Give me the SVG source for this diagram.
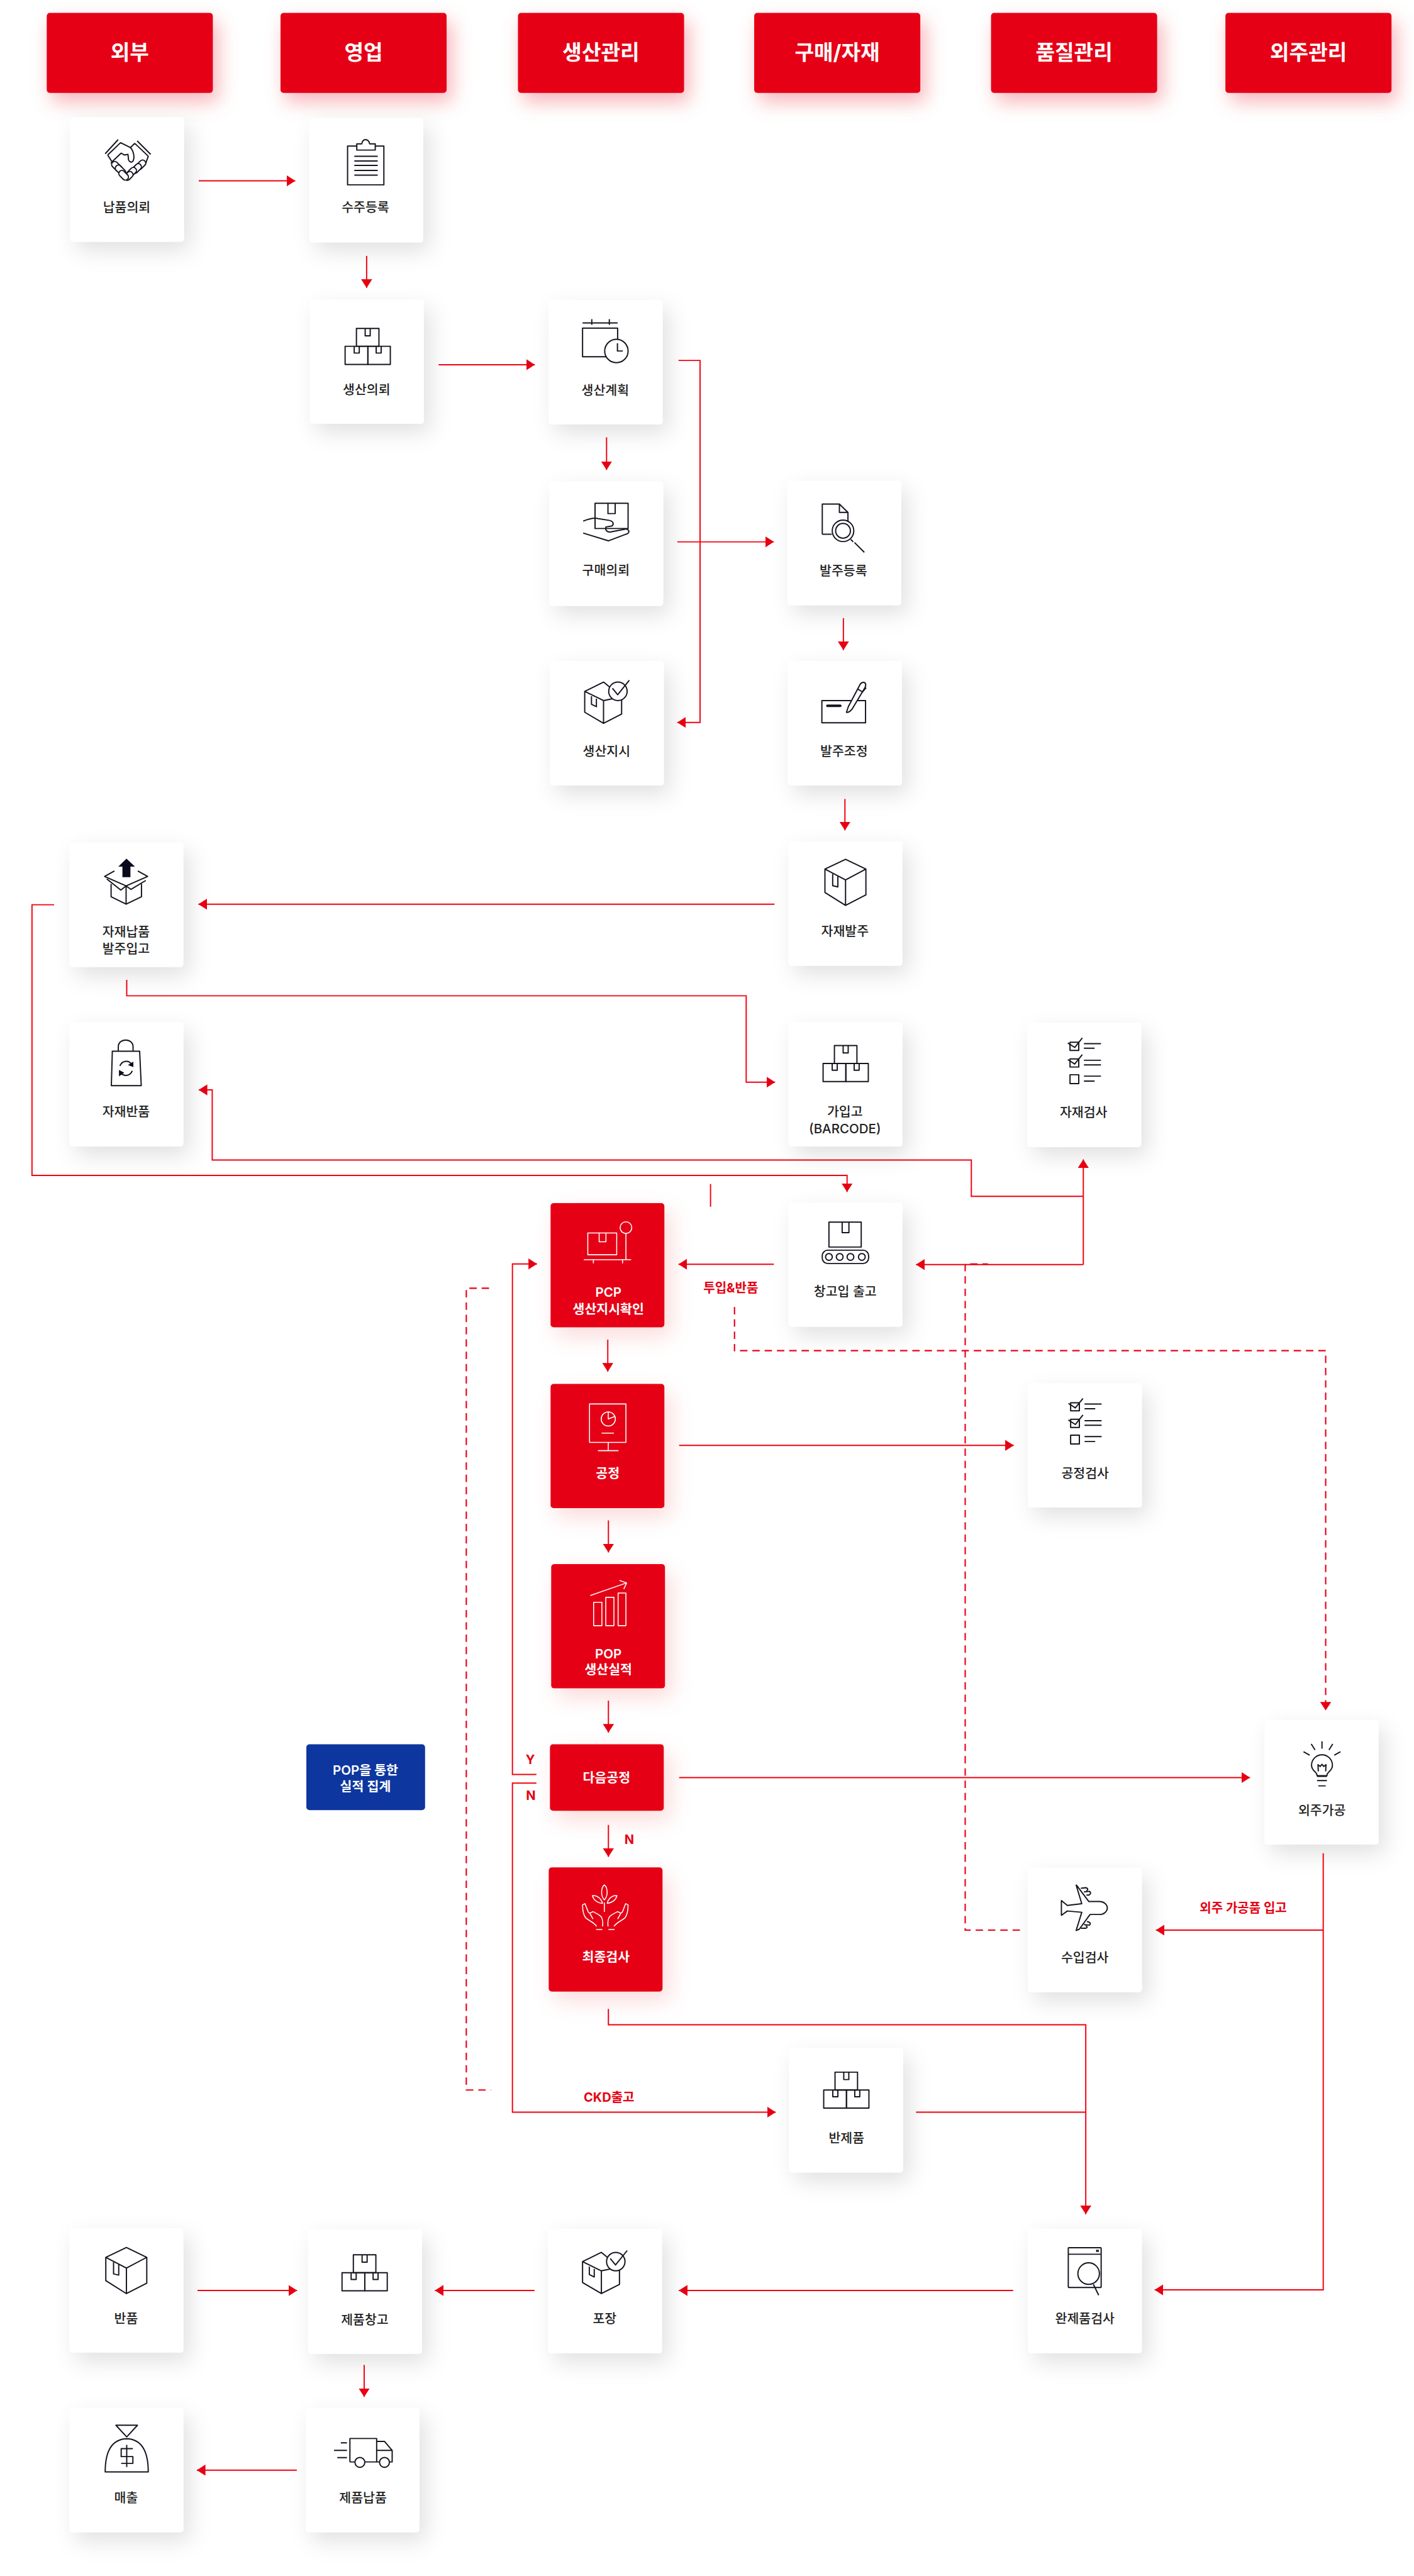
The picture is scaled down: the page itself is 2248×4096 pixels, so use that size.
<svg xmlns="http://www.w3.org/2000/svg" xmlns:xlink="http://www.w3.org/1999/xlink" width="2248" height="4096" viewBox="0 0 2248 4096">
<style>
text{font-family:"Inter","Noto Sans CJK KR","Noto Sans",sans-serif;text-anchor:middle;dominant-baseline:central}
.hd rect{fill:#e60012}
.hd text{fill:#fff;font-size:34px;font-weight:700}
.cd>rect{fill:#fff}
.cd text{fill:#222;font-size:21px;font-weight:500}
.rd>rect{fill:#e60012}
.rd text{fill:#fff;font-size:21px;font-weight:600}
.lb{fill:#e60012;font-size:20.500px;font-weight:700}
.ic{fill:none;stroke:#14141f;stroke-width:2;stroke-linejoin:round}
.iw{fill:none;stroke:#fff;stroke-width:1.6;stroke-linejoin:round}
.c{fill:none;stroke:#f2000f;stroke-width:2}
.d{fill:none;stroke:#e8001a;stroke-width:2.2;stroke-dasharray:12 8}
</style>
<defs>
<filter id="sc" x="-50%" y="-40%" width="220%" height="190%"><feDropShadow dx="10" dy="14" stdDeviation="18" flood-color="#000" flood-opacity="0.12"/></filter>
<filter id="sr" x="-50%" y="-40%" width="220%" height="190%"><feDropShadow dx="10" dy="14" stdDeviation="18" flood-color="#e60012" flood-opacity="0.15"/></filter>
<filter id="sh" x="-30%" y="-40%" width="170%" height="200%"><feDropShadow dx="8" dy="14" stdDeviation="16" flood-color="#e60012" flood-opacity="0.3"/></filter>
<marker id="a" markerUnits="userSpaceOnUse" markerWidth="15" markerHeight="19" refX="14" refY="9" orient="auto"><path d="M0 0L14 9L0 18Z" fill="#e60012"/></marker>
<g id="i-stack" class="ic">
<rect x="18.4" y="0" width="36.6" height="29"/><rect x="0" y="29" width="37" height="29.5"/><rect x="37" y="29" width="36.5" height="29.5"/>
<path d="M32.6 0V12H40.8V0M14.8 29V40H23V29M50.5 29V40H58.6V29"/>
</g>
<g id="i-cube" class="ic">
<path d="M33.500 0L66.600 16L33.500 33.600L0 16ZM0 16V54L33.500 75L66.600 58V16M33.500 33.600V75M12.600 24V43L21 45V28"/>
</g>
<g id="i-boxok" class="ic">
<path d="M0 18L30.600 3L60 27V55L30.600 70L0 52ZM0 18L30.600 33V70M30.600 33L60 27M11 26V39L19 43V30"/>
<circle cx="54" cy="18" r="15" fill="#fff"/>
<path d="M45 13L53.600 23.500L72.500 0"/>
</g>
<g id="i-check" class="ic">
<rect x="3.600" y="7" width="14.200" height="13.200"/>
<path d="M0 8.100L11.200 15.400L23.600 0M26.200 9.200H53.900M26.200 16.700H43.600"/>
<rect x="3.600" y="34" width="14.200" height="13.200"/>
<path d="M0 35.100L11.200 42.400L23.600 27M26.200 36.200H53.900M26.200 43.700H53.900"/>
<rect x="3.600" y="59.700" width="14.200" height="14.400"/>
<path d="M26.200 62H53.900M26.200 70.100H43.600"/>
</g>
</defs>
<g transform="scale(0.978)">
<g id="h-external" class="hd"><rect x="76" y="21" width="270" height="130" rx="5" filter="url(#sh)"/><text x="211" y="85">외부</text></g>
<g id="h-sales" class="hd"><rect x="456" y="21" width="270" height="130" rx="5" filter="url(#sh)"/><text x="591" y="85">영업</text></g>
<g id="h-prod" class="hd"><rect x="842" y="21" width="270" height="130" rx="5" filter="url(#sh)"/><text x="977" y="85">생산관리</text></g>
<g id="h-buy" class="hd"><rect x="1226" y="21" width="270" height="130" rx="5" filter="url(#sh)"/><text x="1361" y="85">구매/자재</text></g>
<g id="h-qc" class="hd"><rect x="1611" y="21" width="270" height="130" rx="5" filter="url(#sh)"/><text x="1746" y="85">품질관리</text></g>
<g id="h-out" class="hd"><rect x="1992" y="21" width="270" height="130" rx="5" filter="url(#sh)"/><text x="2127" y="85">외주관리</text></g>

<g id="n-napum" class="cd"><rect x="114" y="191" width="185" height="202" rx="5" filter="url(#sc)"/>
<g class="ic"><path d="M171 250L192 227M223 229L245 251M175 252L196 232L212 240C218 246 219 258 216 262C214 265 210 263 209 260L208 251L202 252L197 249L180 265M219 233L241 254L236 268M212 240L219 233M175 252L184 266"/>
<rect x="220" y="263" width="18" height="10" rx="5" transform="rotate(-45 229 268)" fill="#fff"/><rect x="213" y="269" width="18" height="10" rx="5" transform="rotate(-45 222 274)" fill="#fff"/><rect x="205" y="275" width="18" height="10" rx="5" transform="rotate(-45 214 280)" fill="#fff"/><rect x="201" y="281" width="16" height="10" rx="5" transform="rotate(-45 209 286)" fill="#fff"/>
<rect x="180" y="266" width="20" height="10" rx="5" transform="rotate(45 190 271)" fill="#fff"/><rect x="186" y="272" width="20" height="10" rx="5" transform="rotate(45 196 277)" fill="#fff"/><rect x="192" y="280" width="18" height="10" rx="5" transform="rotate(45 201 285)" fill="#fff"/></g>
<text x="206" y="337">납품의뢰</text></g>

<g id="n-order" class="cd"><rect x="503" y="192" width="185" height="202" rx="5" filter="url(#sc)"/>
<g class="ic"><rect x="565" y="237.500" width="59" height="63"/><path d="M580 244V234H588C589 229 591 227 594 227C597 227 600 229 601 234H610V244Z" fill="#fff"/><path d="M576 254H614M576 261.700H614M576 269H614M576 277H614M576 284.700H614"/></g>
<text x="594" y="337">수주등록</text></g>

<g id="n-reqprod" class="cd"><rect x="504" y="487" width="185" height="202" rx="5" filter="url(#sc)"/>
<use href="#i-stack" x="561" y="534"/><text x="596" y="633">생산의뢰</text></g>

<g id="n-plan" class="cd"><rect x="892" y="488" width="185" height="202" rx="5" filter="url(#sc)"/>
<g class="ic"><path d="M947 525H1004M962 519V528M990.500 519V528"/><rect x="947" y="533.500" width="57" height="46.500"/><circle cx="1002" cy="570.700" r="19" fill="#fff"/><path d="M1003.700 558V570.700H1012.500"/></g>
<text x="984" y="634">생산계획</text></g>

<g id="n-purchase" class="cd"><rect x="893" y="783" width="185" height="202" rx="5" filter="url(#sc)"/>
<g class="ic"><rect x="967.300" y="818.300" width="53.700" height="41"/><path d="M988.300 818.300V835H1000V818.300"/><path d="M948 847.300C957 843.500 963 841.700 970 842.700L990 846C997 847.300 998.300 851.700 995 855L985 856.700C983.300 861.700 986.700 865 991.700 865L1018.300 860C1023.300 861.700 1024 866.700 1018.300 868.300L989.300 879.300L948 866.700"/></g>
<text x="985" y="927">구매의뢰</text></g>

<g id="n-po" class="cd"><rect x="1280" y="782" width="185" height="202" rx="5" filter="url(#sc)"/>
<g class="ic"><path d="M1336.700 868.600V819.500H1364.500L1378.400 833V848M1364.500 819.500V833H1378.400"/><path d="M1352 868.600H1336.700"/><circle cx="1370.400" cy="863" r="17.500" fill="#fff"/><circle cx="1370.400" cy="863" r="12"/><path d="M1383 877L1387 881M1389 882L1405 898"/></g>
<text x="1371" y="928">발주등록</text></g>

<g id="n-instr" class="cd"><rect x="894" y="1075" width="185" height="202" rx="5" filter="url(#sc)"/>
<use href="#i-boxok" x="950.500" y="1106"/><text x="986" y="1221">생산지시</text></g>

<g id="n-adjust" class="cd"><rect x="1281" y="1075" width="185" height="202" rx="5" filter="url(#sc)"/>
<g class="ic"><rect x="1336" y="1139" width="71" height="36"/><path d="M1345 1147.500H1366" stroke-width="4" stroke-linecap="round"/><path d="M1376 1158L1379 1149L1398 1113C1400 1109 1406 1108 1407 1112C1408 1114 1407 1116 1406 1118L1385 1153C1382 1157 1378 1159 1376 1158Z" fill="#fff"/><path d="M1394 1120L1402 1125L1408 1118"/></g>
<text x="1372" y="1221">발주조정</text></g>

<g id="n-matorder" class="cd"><rect x="1282" y="1368" width="185" height="202" rx="5" filter="url(#sc)"/>
<use href="#i-cube" x="1341" y="1397"/><text x="1373.500" y="1514">자재발주</text></g>

<g id="n-matin" class="cd"><rect x="113" y="1370" width="185" height="202" rx="5" filter="url(#sc)"/>
<g class="ic"><path d="M180.600 1437V1458L205 1470L230 1458V1437M205 1440.400V1470M205 1440.400L170 1425L186 1416M205 1440.400L240 1425L224 1416M173.500 1429L196.400 1447L205 1440.400M237 1431.500L213 1446L205 1440.400"/></g>
<path d="M205.600 1396L219.400 1409H212V1426H199V1409H192.300Z" fill="#0a0a1e"/>
<text x="205" y="1515">자재납품</text><text x="205" y="1542">발주입고</text></g>

<g id="n-matret" class="cd"><rect x="113" y="1662" width="185" height="202" rx="5" filter="url(#sc)"/>
<g class="ic"><path d="M182.600 1709H227L229.600 1765H181ZM192.300 1709V1702C192.300 1695 198 1691 204.300 1691C210.500 1691 216.300 1695 216.300 1702V1709"/><path d="M195 1733C198 1725 208 1723 213 1729M215 1741C212 1749 202 1751 197 1745"/></g>
<path d="M216.800 1726V1735L208 1731.500ZM193.400 1739.500V1750L202 1744Z" fill="#0a0a1e"/>
<text x="205" y="1807">자재반품</text></g>

<g id="n-prein" class="cd"><rect x="1282" y="1662" width="185" height="202" rx="5" filter="url(#sc)"/>
<use href="#i-stack" x="1338" y="1700"/><text x="1373.500" y="1807">가입고</text><text x="1373.500" y="1835">(BARCODE)</text></g>

<g id="n-matqc" class="cd"><rect x="1670" y="1663" width="185" height="202" rx="5" filter="url(#sc)"/>
<use href="#i-check" x="1735.800" y="1687.600"/><text x="1761.500" y="1808">자재검사</text></g>

<g id="n-wh" class="cd"><rect x="1282" y="1955" width="185" height="202" rx="5" filter="url(#sc)"/>
<g class="ic"><rect x="1347.500" y="1987" width="52.500" height="40.500"/><path d="M1369 1987V2004H1380V1987"/><rect x="1336.600" y="2032.600" width="75.400" height="21.700" rx="9"/><circle cx="1347.500" cy="2043.500" r="5.500"/><circle cx="1365" cy="2043.500" r="5.500"/><circle cx="1382.500" cy="2043.500" r="5.500"/><circle cx="1401" cy="2043.500" r="5.500"/></g>
<text x="1374" y="2100">창고입 출고</text></g>

<g id="n-pcp" class="rd"><rect x="895" y="1956" width="185" height="202" rx="5" filter="url(#sr)"/>
<g class="iw"><rect x="955.500" y="2004.600" width="47" height="35.400"/><path d="M974 2004.600V2019H985V2004.600M949 2048H1026M964.600 2048V2054M1012 2048V2054M1017.500 2005V2048"/><circle cx="1017.500" cy="1996" r="9.500"/></g>
<text x="989" y="2101">PCP</text><text x="989" y="2128">생산지시확인</text></g>

<g id="n-proc" class="rd"><rect x="895" y="2250" width="185" height="202" rx="5" filter="url(#sr)"/>
<g class="iw"><rect x="958.300" y="2282.600" width="59.200" height="62.400"/><circle cx="988.800" cy="2307" r="11.500"/><path d="M988.800 2295.500V2307L999.500 2303M978 2330H998M988.800 2345V2358.500M972 2358.500H1005.400"/></g>
<text x="988" y="2395.500">공정</text></g>

<g id="n-pop" class="rd"><rect x="896" y="2543" width="185" height="202" rx="5" filter="url(#sr)"/>
<g class="iw"><rect x="965" y="2605" width="13.400" height="38"/><rect x="984.700" y="2597" width="13.300" height="46"/><rect x="1004.800" y="2590" width="12.700" height="53"/><path d="M959.500 2594L1018.600 2573.500M1007 2569.600L1018.600 2573.500L1014 2583.600"/></g>
<text x="989" y="2689">POP</text><text x="989" y="2714">생산실적</text></g>

<g id="n-next" class="rd"><rect x="894" y="2836" width="185" height="108" rx="5" filter="url(#sr)"/><text x="986" y="2890">다음공정</text></g>

<g id="n-popsum"><rect x="498" y="2836" width="193" height="107" rx="5" fill="#0d369f"/><text x="594" y="2878" fill="#fff" font-size="21" font-weight="600">POP을 통한</text><text x="594" y="2904" fill="#fff" font-size="21" font-weight="600">실적 집계</text></g>

<g id="n-final" class="rd"><rect x="892" y="3036" width="185" height="202" rx="5" filter="url(#sr)"/>
<g class="iw"><path d="M982.400 3064.500C988 3069 989 3082 982.400 3089C976 3082 977 3069 982.400 3064.500ZM963 3082C970 3081 977 3086 979.600 3094.500C971 3094 965 3089 963 3082ZM1003 3082C996 3081 989 3086 987 3094.500C995 3094 1001 3089 1003 3082ZM982.400 3093V3108.500"/>
<g id="hand-l"><path d="M970 3132C965 3125 956 3122 952 3118C948 3113 947 3104 947 3097L951 3095L956 3108C958 3112 960 3110 964 3108C968 3110 975 3114 977 3116C980 3120 980 3128 979.500 3132M964 3120L959 3111M969 3137H979"/></g>
<use href="#hand-l" transform="translate(1968 0) scale(-1 1)"/></g>
<text x="985" y="3182">최종검사</text></g>

<g id="n-semi" class="cd"><rect x="1283" y="3330" width="185" height="202" rx="5" filter="url(#sc)"/>
<use href="#i-stack" x="1339" y="3369"/><text x="1376" y="3476">반제품</text></g>

<g id="n-procqc" class="cd"><rect x="1671" y="2249" width="185" height="202" rx="5" filter="url(#sc)"/>
<use href="#i-check" x="1736.800" y="2273.600"/><text x="1764" y="2395">공정검사</text></g>

<g id="n-outproc" class="cd"><rect x="2056" y="2797" width="185" height="202" rx="5" filter="url(#sc)"/>
<g class="ic"><path d="M2149 2831V2843M2131.500 2835.400L2137.700 2845M2166.500 2835.400L2160.300 2845M2119 2848L2129 2853.700M2179 2848L2169 2853.700M2141 2887C2141 2880 2132 2880 2132 2870A17 17 0 1 1 2166 2870C2166 2880 2157 2880 2157 2887ZM2143 2880L2142.500 2869L2146 2872L2149 2868.500L2152 2872L2155.500 2869L2155 2880M2141 2888H2157M2141 2895H2157M2143 2903.500H2155"/></g>
<text x="2149" y="2943">외주가공</text></g>

<g id="n-incoming" class="cd"><rect x="1671" y="3037" width="185" height="202" rx="5" filter="url(#sc)"/>
<g class="ic"><path d="M1800 3102C1800 3096 1794 3091.600 1787.500 3091.600H1770L1750 3065L1749.400 3065L1758.500 3095L1735 3098L1725.400 3090V3114L1735 3107L1758.500 3109L1749.400 3138.600L1754.500 3136.500L1772 3112.600H1787.500C1794 3112.600 1800 3108 1800 3102Z"/><path d="M1757 3070L1765 3069C1769 3070 1769 3073 1766 3074M1762 3076L1771 3075C1774 3077 1773 3080 1770 3081L1766 3081M1762 3129L1771 3130C1773 3128 1773 3126 1770 3125L1767 3124M1757 3135L1765 3135C1768 3134 1768 3132 1765 3131"/></g>
<text x="1763.500" y="3183">수입검사</text></g>

<g id="n-fgqc" class="cd"><rect x="1671" y="3624" width="185" height="202" rx="5" filter="url(#sc)"/>
<g class="ic"><rect x="1736.600" y="3654.400" width="53.400" height="64.600" rx="1"/><path d="M1736.600 3665H1790M1782 3658L1786 3661M1786 3658L1782 3661"/><circle cx="1769.700" cy="3696.500" r="17.500"/><path d="M1777.400 3714L1786 3731.600"/></g>
<text x="1763.500" y="3769">완제품검사</text></g>

<g id="n-pack" class="cd"><rect x="891" y="3624" width="185" height="202" rx="5" filter="url(#sc)"/>
<use href="#i-boxok" x="947" y="3659"/><text x="983" y="3769">포장</text></g>

<g id="n-fgwh" class="cd"><rect x="501" y="3625" width="185" height="202" rx="5" filter="url(#sc)"/>
<use href="#i-stack" x="556" y="3666"/><text x="593" y="3771">제품창고</text></g>

<g id="n-return" class="cd"><rect x="113" y="3623" width="185" height="202" rx="5" filter="url(#sc)"/>
<use href="#i-cube" x="172" y="3654"/><text x="205" y="3769">반품</text></g>

<g id="n-sales" class="cd"><rect x="113" y="3915" width="185" height="202" rx="5" filter="url(#sc)"/>
<g class="ic"><path d="M188.400 3943H223.500L206 3962ZM171 4019H241C241 3995 236 3966 206 3965C176 3966 171 3995 171 4019ZM206 3975V4011M216 3981H197V3994H216V4005H197"/></g>
<text x="205" y="4061">매출</text></g>

<g id="n-deliver" class="cd"><rect x="497" y="3915" width="185" height="202" rx="5" filter="url(#sc)"/>
<g class="ic"><path d="M568.800 4002.700V3964.600H612.300V4002.700H568.800M612.300 3969.300H625L637.500 3984V4002.700H612.300M612.300 3984H637.500M554 3971.600H564M543 3984H564M548.400 3995.700H564"/><circle cx="585" cy="4003.400" r="8" fill="#fff"/><circle cx="625" cy="4003.400" r="8" fill="#fff"/></g>
<text x="590" y="4061">제품납품</text></g>

<g id="connectors">
<path class="c" marker-end="url(#a)" d="M323 294H480"/>
<path class="c" marker-end="url(#a)" d="M596 416V468"/>
<path class="c" marker-end="url(#a)" d="M713 593H869.500"/>
<path class="c" marker-end="url(#a)" d="M1103 586H1138V1174.500H1101"/>
<path class="c" marker-end="url(#a)" d="M986 711V764"/>
<path class="c" marker-end="url(#a)" d="M1101 881H1258"/>
<path class="c" marker-end="url(#a)" d="M1371 1005V1057"/>
<path class="c" marker-end="url(#a)" d="M1373.500 1299V1350"/>
<path class="c" marker-end="url(#a)" d="M1259 1470H322.500"/>
<path class="c" marker-end="url(#a)" d="M88 1471H52V1911H1377V1938"/>
<path class="c" marker-end="url(#a)" d="M206 1593V1619H1213V1759.500H1260"/>
<path class="c" marker-end="url(#a)" d="M1761 1945H1579V1886H345V1772H323"/>
<path class="c" marker-end="url(#a)" d="M1761 2056V1885"/>
<path class="c" marker-end="url(#a)" d="M1761 2056H1489"/>
<path class="c" d="M1155 1925V1962"/>
<path class="c" marker-end="url(#a)" d="M1258 2055.500H1103"/>
<path class="d" stroke-width="2" marker-end="url(#a)" d="M1194 2125V2196H2155V2781"/>
<path class="d" d="M1658 3138H1569V2055H1606"/>
<path class="d" d="M795 2094.500H758V3398H798"/>
<path class="c" marker-end="url(#a)" d="M988 2178V2230"/>
<path class="c" marker-end="url(#a)" d="M1104 2350H1648"/>
<path class="c" marker-end="url(#a)" d="M989 2472V2524"/>
<path class="c" marker-end="url(#a)" d="M989 2765V2817"/>
<path class="c" marker-end="url(#a)" d="M1104 2890H2032"/>
<path class="c" marker-end="url(#a)" d="M872 2885H833V2055H873"/>
<path class="c" marker-end="url(#a)" d="M872 2899H833V3434H1261"/>
<path class="c" marker-end="url(#a)" d="M989 2967V3019"/>
<path class="c" marker-end="url(#a)" d="M989 3266V3292H1765V3600"/>
<path class="c" d="M1489 3434H1765"/>
<path class="c" marker-end="url(#a)" d="M2151 3013V3723H1877"/>
<path class="c" marker-end="url(#a)" d="M2151 3138H1879"/>
<path class="c" marker-end="url(#a)" d="M1647 3724H1103.500"/>
<path class="c" marker-end="url(#a)" d="M869 3724H707"/>
<path class="c" marker-end="url(#a)" d="M321 3724H483"/>
<path class="c" marker-end="url(#a)" d="M592 3845V3897"/>
<path class="c" marker-end="url(#a)" d="M482.500 4016H320"/>
<text class="lb" x="1188" y="2094">투입&amp;반품</text>
<text class="lb" x="2021" y="3102">외주 가공품 입고</text>
<text class="lb" x="990" y="3410">CKD출고</text>
<text class="lb" x="862" y="2861">Y</text>
<text class="lb" x="863" y="2919">N</text>
<text class="lb" x="1023" y="2991">N</text>
</g>
</g>
</svg>
